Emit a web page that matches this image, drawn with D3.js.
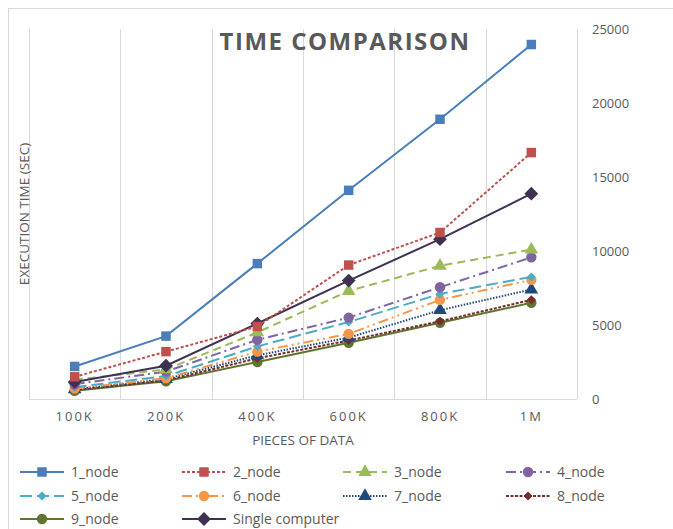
<!DOCTYPE html>
<html><head><meta charset="utf-8">
<script src="https://cdn.jsdelivr.net/npm/d3@7/dist/d3.min.js"></script>
<style>body{margin:0;background:#fff}svg{display:block}text{font-family:"Open Sans",sans-serif;fill:#595959}</style>
</head><body><svg id="c" width="673" height="529"></svg>
<script>
const categories = ["100K","200K","400K","600K","800K","1M"];
const yTicks = [0,5000,10000,15000,20000,25000];
const seriesNames = ["1_node","2_node","3_node","4_node","5_node","6_node","7_node","8_node","9_node","Single computer"];
const node1 = [2200,4250,9150,14100,18900,23950];
const node2 = [1500,3200,4900,9050,11250,16650];
const node3 = [1300,2000,4500,7300,9000,10100];
const node4 = [1000,1850,4000,5500,7550,9570];
const node5 = [800,1550,3550,5200,7100,8250];
const node6 = [700,1400,3200,4400,6700,8050];
const node7 = [650,1350,2950,4150,6000,7400];
const node8 = [600,1250,2750,3950,5250,6700];
const node9 = [550,1200,2500,3800,5150,6500];
const single = [1150,2250,5100,8000,10800,13870];
const values = [node1,node2,node3,node4,node5,node6,node7,node8,node9,single];

const styles = [
 {c:"#4a7ebb",dash:null,m:"square",ms:90},
 {c:"#c0504d",dash:"3,2",m:"square",ms:90},
 {c:"#9bbb59",dash:"8,5",m:"triangle",ms:80},
 {c:"#8064a2",dash:"10,4,2,4",m:"circle",ms:85},
 {c:"#4bacc6",dash:"12,5",m:"diamond",ms:40},
 {c:"#f79646",dash:"10,4,2,4,2,4",m:"circle",ms:85},
 {c:"#1f497d",dash:"1.5,1.5",m:"triangle",ms:80},
 {c:"#772c2a",dash:"3,1.5",m:"diamond",ms:40},
 {c:"#5f7530",dash:null,m:"circle",ms:85},
 {c:"#3f3151",dash:null,m:"diamond",ms:95}
];
const symMap = {square:d3.symbolSquare,triangle:d3.symbolTriangle,circle:d3.symbolCircle,diamond:d3.symbolSquare};
const rot = m => m==="diamond" ? " rotate(45)" : "";

const svg = d3.select("#c");
svg.append("rect").attr("x",8.5).attr("y",8.5).attr("width",700).attr("height",600)
  .attr("fill","none").attr("stroke","#d9d9d9");

const x = d3.scaleBand().domain(categories).range([29,577]).padding(0);
const y = d3.scaleLinear().domain([0,25000]).range([399,29]);

const bounds = categories.map(c=>x(c)).concat([x.range()[1]]);
svg.append("g").selectAll("line").data(bounds).join("line")
  .attr("x1",d=>Math.round(d)+0.5).attr("x2",d=>Math.round(d)+0.5)
  .attr("y1",y(25000)).attr("y2",y(0)).attr("stroke","#d9d9d9").attr("stroke-width",1);
svg.append("line").attr("x1",29).attr("x2",577).attr("y1",y(0)+0.5).attr("y2",y(0)+0.5)
  .attr("stroke","#d9d9d9");

const xa = svg.append("g").attr("transform",`translate(0,${y(0)})`)
  .call(d3.axisBottom(x).tickSize(0).tickPadding(0));
xa.select(".domain").remove();
xa.selectAll("text").attr("dy",null).attr("y",22).attr("font-size",13)
  .style("letter-spacing","2px").attr("fill","#595959").attr("font-family","Open Sans");

const ya = svg.append("g").attr("transform",`translate(577,0)`)
  .call(d3.axisRight(y).tickValues(yTicks).tickSize(0).tickPadding(15).tickFormat(d3.format("d")));
ya.select(".domain").remove();
ya.selectAll("text").attr("font-size",13).attr("fill","#595959").attr("font-family","Open Sans");

svg.append("text").attr("x",303).attr("y",445).attr("text-anchor","middle").attr("font-size",13.5).text("PIECES OF DATA");
svg.append("text").attr("transform","translate(29,214) rotate(-90)").attr("text-anchor","middle").attr("font-size",13.5).text("EXECUTION TIME (SEC)");

svg.append("text").attr("x",345).attr("y",50).attr("text-anchor","middle").attr("font-size",24)
  .attr("font-weight","bold").style("letter-spacing","1.5px").text("TIME COMPARISON");

const line = d3.line().x((d,i)=>x(categories[i])+x.bandwidth()/2).y(d=>y(d));
const order = [8,7,6,5,4,3,2,9,1,0];
order.forEach(si=>{
  const s = styles[si];
  const g = svg.append("g");
  g.append("path").datum(values[si]).attr("d",line).attr("fill","none")
    .attr("stroke",s.c).attr("stroke-width",2).attr("stroke-dasharray",s.dash);
  g.selectAll("path.m").data(values[si]).join("path").attr("class","m")
    .attr("transform",(d,i)=>`translate(${x(categories[i])+x.bandwidth()/2},${y(d)})${rot(s.m)}`)
    .attr("d",d3.symbol().type(symMap[s.m]).size(s.ms)).attr("fill",s.c);
});

const colX = [20,182,343,506];
const rowY = [472,496,519];
seriesNames.forEach((name,i)=>{
  const s = styles[i];
  const lx = colX[i%4], ly = rowY[Math.floor(i/4)];
  const g = svg.append("g");
  g.append("line").attr("x1",lx).attr("x2",lx+44).attr("y1",ly).attr("y2",ly)
    .attr("stroke",s.c).attr("stroke-width",2).attr("stroke-dasharray",s.dash);
  g.append("path").attr("transform",`translate(${lx+22},${ly})${rot(s.m)}`)
    .attr("d",d3.symbol().type(symMap[s.m]).size(s.ms)).attr("fill",s.c);
  g.append("text").attr("x",lx+51).attr("y",ly+5).attr("font-size",14).text(name);
});
</script></body></html>
